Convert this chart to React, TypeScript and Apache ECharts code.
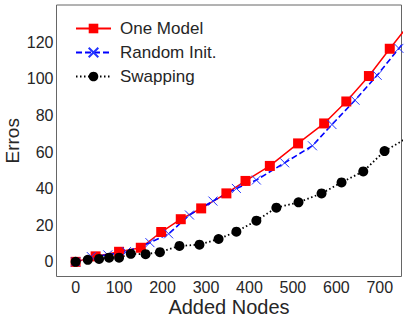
import React, { useEffect, useRef } from "react";
import * as echarts from "echarts";

const oneModelX = [0, 46, 100, 150, 197, 242, 289, 347, 391, 447, 512, 572, 623, 675, 723, 775];
const oneModelY = [0, 3.0, 5.5, 7.7, 16.3, 23.3, 29.2, 37.4, 44.2, 52.4, 64.7, 75.6, 87.6, 101.5, 116.4, 132];

const randomX = [0, 36, 74, 117, 171, 214, 262, 316, 370, 416, 481, 545, 590, 643, 694, 744, 795];
const randomY = [0, 2.9, 3.8, 5.6, 10.5, 15.3, 25.6, 33.2, 40.1, 44.7, 54.1, 63.4, 75.0, 88.3, 101.9, 116.6, 132];

const swapX = [0, 28, 54, 77, 100, 127, 161, 194, 239, 285, 329, 370, 416, 462, 513, 566, 612, 662, 711, 765];
const swapY = [0, 1.1, 1.6, 2.3, 2.3, 4.4, 4.2, 5.3, 8.7, 9.4, 12.5, 16.5, 22.5, 29.6, 32.5, 37.4, 43.4, 49.4, 60.5, 68];

const xTicks = [0, 100, 200, 300, 400, 500, 600, 700];
const yTicks = [0, 20, 40, 60, 80, 100, 120];

const zip = (xs: number[], ys: number[]) => xs.map((x, i) => [x, ys[i]]);

export default function App() {
  const ref = useRef<HTMLDivElement>(null);
  useEffect(() => {
    if (!ref.current) return;
    const chart = echarts.init(ref.current, undefined, { renderer: "svg" });
    const font = "Liberation Sans, Arial, sans-serif";
    const textColor = "#262626";
    chart.setOption({
      animation: false,
      backgroundColor: "#ffffff",
      grid: {
        left: 56.5,
        right: 5.5,
        top: 5,
        bottom: 45.5,
        containLabel: false,
        outerBoundsMode: "none",
        show: true,
        borderColor: "#666666",
        borderWidth: 1,
        backgroundColor: "#ffffff",
      },
      legend: {
        orient: "vertical",
        left: 70,
        top: 15,
        itemWidth: 35,
        itemHeight: 12,
        itemGap: 7,
        textStyle: { fontFamily: font, fontSize: 17, color: textColor, padding: [0, 0, 0, 4] },
        data: ["One Model", "Random Init.", "Swapping"],
      },
      xAxis: {
        type: "value",
        min: -44,
        max: 750,
        name: "Added Nodes",
        nameLocation: "middle",
        nameGap: 20,
        nameMoveOverlap: false,
        nameTextStyle: { fontFamily: font, fontSize: 20, color: textColor, verticalAlign: "top" },
        axisLine: { show: false },
        axisTick: { show: false },
        splitLine: { show: false },
        axisLabel: {
          customValues: xTicks,
          fontFamily: font,
          fontSize: 16,
          color: textColor,
          margin: 3,
        },
      },
      yAxis: {
        type: "value",
        min: -8,
        max: 140.3,
        name: "Erros",
        nameLocation: "middle",
        nameGap: 35,
        nameMoveOverlap: false,
        nameRotate: 90,
        nameTextStyle: { fontFamily: font, fontSize: 19, color: textColor },
        axisLine: { show: false },
        axisTick: { show: false },
        splitLine: { show: false },
        axisLabel: {
          customValues: yTicks,
          fontFamily: font,
          fontSize: 16,
          color: textColor,
          margin: 3,
        },
      },
      series: [
        {
          name: "One Model",
          type: "line",
          data: zip(oneModelX, oneModelY),
          clip: true,
          symbol: "rect",
          symbolSize: 10,
          itemStyle: { color: "#ff0000" },
          lineStyle: { color: "#ff0000", width: 1.5 },
        },
        {
          name: "Random Init.",
          type: "line",
          data: zip(randomX, randomY),
          clip: true,
          symbol: "path://M0,0L10,10M10,0L0,10",
          symbolSize: 9,
          itemStyle: { color: "rgba(0,0,0,0)", borderColor: "#2233ff", borderWidth: 1 },
          lineStyle: { color: "#0000ff", width: 1.6, type: [6, 3] },
        },
        {
          name: "Swapping",
          type: "line",
          data: zip(swapX, swapY),
          clip: true,
          symbol: "circle",
          symbolSize: 10,
          itemStyle: { color: "#000000" },
          lineStyle: { color: "#000000", width: 1.8, type: [1.5, 2.5] },
        },
      ],
    });
    return () => chart.dispose();
  }, []);
  return (
    <div
      ref={ref}
      style={{ position: "fixed", left: 0, top: 0, width: 407, height: 322, background: "#fff" }}
    />
  );
}
